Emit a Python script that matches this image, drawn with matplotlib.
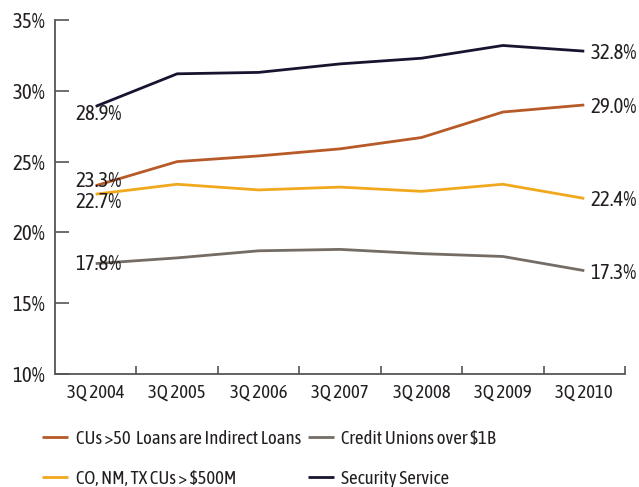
import matplotlib
matplotlib.use('Agg')
import matplotlib.pyplot as plt
from matplotlib.ticker import FixedLocator, FuncFormatter

plt.rcParams['font.family'] = ['Asap Condensed', 'Liberation Sans Narrow', 'DejaVu Sans']

quarters = ['3Q 2004', '3Q 2005', '3Q 2006', '3Q 2007', '3Q 2008', '3Q 2009', '3Q 2010']
indirect = [23.3, 25.0, 25.4, 25.9, 26.7, 28.5, 29.0]
co_nm_tx = [22.7, 23.4, 23.0, 23.2, 22.9, 23.4, 22.4]
over_1b = [17.8, 18.2, 18.7, 18.8, 18.5, 18.3, 17.3]
security = [28.9, 31.2, 31.3, 31.9, 32.3, 33.2, 32.8]

names = ['CUs >50  Loans are Indirect Loans', 'CO, NM, TX CUs > $500M',
         'Credit Unions over $1B', 'Security Service']
colors = ['#b85a28', '#f0a81c', '#746c65', '#18142f']
series = [indirect, co_nm_tx, over_1b, security]

txt = '#231f20'
fig = plt.figure(figsize=(6.39, 4.87), dpi=100)
ax = fig.add_axes([55 / 639, 1 - 374 / 487, 570 / 639, 354 / 487])

x = list(range(len(quarters)))
for vals, c, n in zip(series, colors, names):
    ax.plot(x, vals, color=c, linewidth=2.0, label=n, solid_capstyle='butt')

ax.set_xlim(-0.5, len(quarters) - 0.5)
ax.set_ylim(10, 35)
ax.set_yticks([10, 15, 20, 25, 30, 35])
ax.yaxis.set_major_formatter(FuncFormatter(lambda v, p: f'{v:.0f}%'))
ax.xaxis.set_major_locator(FixedLocator([i + 0.5 for i in x]))
ax.xaxis.set_major_formatter(FuncFormatter(lambda v, p: ''))
ax.xaxis.set_minor_locator(FixedLocator(x))
ax.set_xticklabels(quarters, minor=True)
ax.tick_params(axis='x', which='major', direction='in', length=6, width=1.2, color='#555555')
ax.tick_params(axis='x', which='minor', length=0, pad=7, labelsize=13.5, labelcolor=txt)
ax.tick_params(axis='y', direction='in', length=10, width=1.2, color='#555555',
               labelsize=15, labelcolor=txt, pad=7)

for s in ['top', 'right']:
    ax.spines[s].set_visible(False)
for s in ['left', 'bottom']:
    ax.spines[s].set_color('#555555')
    ax.spines[s].set_linewidth(1.3)

# start / end value labels
for vals, dy in zip(series, [5, -8, 0, -8]):
    ax.annotate(f'{vals[0]:.1f}%', xy=(0, vals[0]), xytext=(-20, dy),
                textcoords='offset pixels', ha='left', va='center',
                fontsize=15, color=txt)
for vals in series:
    ax.annotate(f'{vals[-1]:.1f}%', xy=(x[-1], vals[-1]), xytext=(6, -2),
                textcoords='offset pixels', ha='left', va='center',
                fontsize=15, color=txt)

fig.legend(loc='upper left', bbox_to_anchor=(42 / 639, 1 - 430 / 487), ncol=2,
           frameon=False, fontsize=13.5, handlelength=1.4, handletextpad=0.4,
           columnspacing=0.35, labelspacing=1.15, borderpad=0, borderaxespad=0,
           labelcolor=txt)

fig.savefig('out.png', dpi=100)
